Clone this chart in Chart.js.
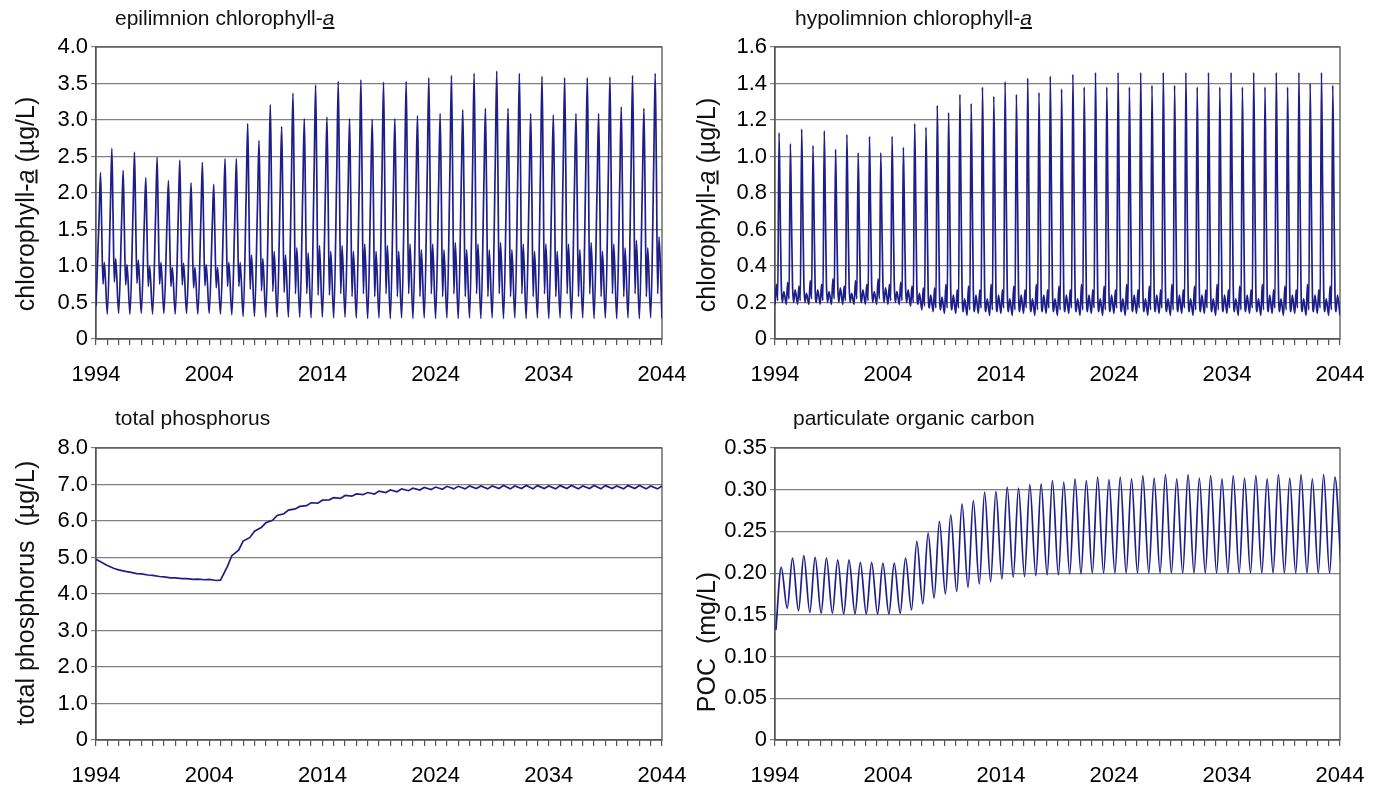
<!DOCTYPE html>
<html lang="en">
<head>
<meta charset="UTF-8">
<title>Lake water quality projections 1994-2044</title>
<style>
    body {
        margin: 0;
        background: #fff;
        font-family: Arial, "Liberation Sans", sans-serif;
        color: #111;
    }
    #page {
        position: relative;
        width: 1376px;
        height: 787px;
        overflow: hidden;
    }
    canvas {
        position: absolute;
    }
    .title {
        position: absolute;
        font-size: 21px;
        white-space: nowrap;
        transform: translateY(-50%);
    }
    .ytitle {
        position: absolute;
        font-size: 25px;
        white-space: nowrap;
        transform: translate(-50%, -50%) rotate(-90deg);
    }
</style>
</head>
<body>
<div id="page">
    <canvas id="epi" width="688" height="390" style="left:0;top:0"></canvas>
    <canvas id="hypo" width="688" height="390" style="left:688px;top:0"></canvas>
    <canvas id="tp" width="688" height="397" style="left:0;top:390px"></canvas>
    <canvas id="poc" width="688" height="397" style="left:688px;top:390px"></canvas>

    <div class="title" style="left:115px;top:18px">epilimnion chlorophyll-<i><u>a</u></i></div>
    <div class="title" style="left:795px;top:18px">hypolimnion chlorophyll-<i><u>a</u></i></div>
    <div class="title" style="left:115px;top:418px">total phosphorus</div>
    <div class="title" style="left:793px;top:418px">particulate organic carbon</div>

    <div class="ytitle" style="left:25px;top:204px">chlorophyll-<i><u>a</u></i> (µg/L)</div>
    <div class="ytitle" style="left:706px;top:205px">chlorophyll-<i><u>a</u></i> (µg/L)</div>
    <div class="ytitle" style="left:25px;top:593px">total phosphorus&nbsp; (µg/L)</div>
    <div class="ytitle" style="left:706px;top:642px">POC&nbsp; (mg/L)</div>
</div>

<script src="https://cdn.jsdelivr.net/npm/chart.js"></script>
<script>
    // first simulated year; every array below has one value per year from 1994
    const startYear = 1994;

    // epilimnion chlorophyll-a (ug/L): winter low, spring rise, bloom peak, fall-off, dip, late bump
    const epiLow = [0.45,0.34,0.35,0.34,0.35,0.34,0.35,0.34,0.35,0.34,
                    0.35,0.34,0.33,0.31,0.31,0.30,0.30,0.30,0.30,0.29,
                    0.30,0.29,0.30,0.29,0.28,0.29,0.28,0.29,0.28,0.29,
                    0.28,0.29,0.28,0.29,0.28,0.29,0.28,0.29,0.28,0.29,
                    0.28,0.29,0.28,0.29,0.28,0.29,0.28,0.29,0.28,0.29,0.28];
    const epiRise = [1.65,1.80,1.65,1.75,1.60,1.72,1.58,1.70,1.56,1.68,
                     1.55,1.70,1.70,2.00,1.85,2.15,2.00,2.25,2.05,2.30,
                     2.05,2.30,2.05,2.30,2.05,2.30,2.05,2.30,2.10,2.35,
                     2.10,2.35,2.15,2.35,2.15,2.40,2.15,2.35,2.10,2.35,
                     2.10,2.35,2.10,2.35,2.10,2.35,2.15,2.35,2.15,2.40];
    const epiPeak = [2.28,2.61,2.31,2.56,2.21,2.49,2.17,2.45,2.14,2.42,
                     2.12,2.47,2.47,2.95,2.72,3.21,2.91,3.37,3.02,3.48,
                     3.04,3.53,3.02,3.55,3.01,3.52,3.02,3.53,3.06,3.58,
                     3.09,3.61,3.14,3.64,3.16,3.67,3.16,3.64,3.09,3.60,
                     3.07,3.58,3.09,3.58,3.09,3.59,3.18,3.61,3.16,3.64];
    const epiFall = [1.55,1.75,1.55,1.70,1.50,1.65,1.48,1.62,1.45,1.60,
                     1.45,1.62,1.62,1.95,1.80,2.10,1.95,2.20,2.00,2.30,
                     2.00,2.30,2.00,2.30,2.00,2.30,2.00,2.30,2.05,2.35,
                     2.05,2.35,2.10,2.40,2.10,2.40,2.10,2.40,2.05,2.35,
                     2.05,2.35,2.05,2.35,2.05,2.35,2.10,2.35,2.10,2.40];
    const epiDip = [0.75,0.78,0.74,0.76,0.72,0.75,0.72,0.74,0.70,0.73,
                    0.70,0.72,0.72,0.68,0.66,0.65,0.64,0.62,0.62,0.60,
                    0.60,0.62,0.58,0.62,0.58,0.62,0.58,0.62,0.58,0.62,
                    0.58,0.62,0.58,0.62,0.58,0.62,0.58,0.62,0.58,0.62,
                    0.58,0.62,0.58,0.62,0.58,0.62,0.58,0.62,0.58,0.62];
    const epiBump = [1.05,1.10,1.02,1.08,1.00,1.05,0.98,1.04,0.98,1.02,
                     0.98,1.05,1.05,1.15,1.10,1.20,1.15,1.25,1.18,1.28,
                     1.20,1.28,1.20,1.30,1.20,1.28,1.20,1.30,1.22,1.30,
                     1.22,1.32,1.22,1.30,1.22,1.32,1.22,1.30,1.20,1.30,
                     1.20,1.30,1.22,1.32,1.20,1.30,1.25,1.35,1.25,1.40];

    // hypolimnion chlorophyll-a (ug/L)
    const hypLow = [0.19,0.19,0.19,0.19,0.19,0.19,0.19,0.19,0.19,0.19,
                    0.19,0.19,0.18,0.16,0.15,0.14,0.14,0.13,0.14,0.13,
                    0.14,0.13,0.14,0.13,0.14,0.13,0.14,0.13,0.14,0.13,
                    0.14,0.13,0.14,0.13,0.14,0.13,0.14,0.13,0.14,0.13,
                    0.14,0.13,0.14,0.13,0.14,0.13,0.14,0.13,0.14,0.13,0.13];
    const hypWiggle = [0.30,0.31,0.29,0.32,0.30,0.33,0.29,0.32,0.30,0.33,
                       0.30,0.31,0.29,0.28,0.28,0.30,0.27,0.29,0.27,0.30,
                       0.27,0.29,0.27,0.30,0.27,0.29,0.27,0.30,0.27,0.29,
                       0.27,0.30,0.27,0.29,0.27,0.30,0.27,0.29,0.27,0.30,
                       0.27,0.29,0.27,0.30,0.27,0.29,0.27,0.30,0.27,0.29];
    const hypPre = [0.21,0.22,0.21,0.22,0.21,0.22,0.21,0.22,0.21,0.22,
                    0.21,0.21,0.20,0.18,0.17,0.17,0.17,0.16,0.17,0.16,
                    0.17,0.16,0.17,0.16,0.17,0.16,0.17,0.16,0.17,0.16,
                    0.17,0.16,0.17,0.16,0.17,0.16,0.17,0.16,0.17,0.16,
                    0.17,0.16,0.17,0.16,0.17,0.16,0.17,0.16,0.17,0.16];
    const hypPeak = [1.13,1.07,1.15,1.06,1.14,1.04,1.12,1.02,1.11,1.02,
                     1.11,1.05,1.18,1.16,1.28,1.24,1.34,1.29,1.38,1.33,
                     1.41,1.34,1.43,1.35,1.44,1.37,1.45,1.38,1.46,1.38,
                     1.46,1.38,1.46,1.39,1.46,1.39,1.46,1.38,1.46,1.38,
                     1.46,1.38,1.46,1.38,1.46,1.38,1.46,1.40,1.46,1.39];
    const hypShoulder = [0.70,0.66,0.72,0.66,0.70,0.65,0.70,0.64,0.70,0.64,
                         0.70,0.66,0.74,0.72,0.78,0.76,0.80,0.78,0.82,0.80,
                         0.82,0.80,0.84,0.80,0.84,0.80,0.84,0.80,0.84,0.80,
                         0.84,0.80,0.84,0.80,0.84,0.80,0.84,0.80,0.84,0.80,
                         0.84,0.80,0.84,0.80,0.84,0.80,0.84,0.80,0.84,0.80];
    const hypPost = [0.31,0.30,0.32,0.29,0.31,0.30,0.32,0.29,0.31,0.30,
                     0.32,0.30,0.29,0.28,0.28,0.27,0.29,0.27,0.28,0.27,
                     0.29,0.27,0.28,0.27,0.29,0.27,0.28,0.27,0.29,0.27,
                     0.28,0.27,0.29,0.27,0.28,0.27,0.29,0.27,0.28,0.27,
                     0.29,0.27,0.28,0.27,0.29,0.27,0.28,0.27,0.29,0.27];
    const hypDip = [0.20,0.20,0.20,0.20,0.20,0.20,0.20,0.20,0.20,0.20,
                    0.20,0.20,0.19,0.17,0.16,0.16,0.15,0.15,0.15,0.15,
                    0.15,0.15,0.15,0.15,0.15,0.15,0.15,0.15,0.15,0.15,
                    0.15,0.15,0.15,0.15,0.15,0.15,0.15,0.15,0.15,0.15,
                    0.15,0.15,0.15,0.15,0.15,0.15,0.15,0.15,0.15,0.15];
    const hypLate = [0.26,0.27,0.25,0.27,0.26,0.28,0.25,0.27,0.26,0.28,
                     0.26,0.27,0.25,0.24,0.23,0.24,0.22,0.24,0.22,0.24,
                     0.22,0.24,0.22,0.24,0.22,0.24,0.22,0.24,0.22,0.24,
                     0.22,0.24,0.22,0.24,0.22,0.24,0.22,0.24,0.22,0.24,
                     0.22,0.24,0.22,0.24,0.22,0.24,0.22,0.24,0.22,0.24];

    // total phosphorus (ug/L): value at start of year and mid-year dip
    const tpJan = [4.95,4.78,4.66,4.60,4.55,4.51,4.47,4.44,4.42,4.41,
                   4.40,4.38,5.05,5.45,5.72,5.95,6.15,6.30,6.40,6.50,
                   6.57,6.64,6.70,6.74,6.78,6.82,6.85,6.88,6.90,6.92,
                   6.93,6.95,6.95,6.96,6.96,6.96,6.97,6.96,6.97,6.97,
                   6.96,6.97,6.97,6.96,6.97,6.97,6.96,6.97,6.97,6.96,6.96];
    const tpMid = [4.85,4.70,4.62,4.56,4.52,4.48,4.44,4.42,4.40,4.39,
                   4.37,4.75,5.20,5.55,5.82,6.02,6.20,6.33,6.42,6.49,
                   6.58,6.62,6.68,6.72,6.74,6.78,6.80,6.83,6.85,6.86,
                   6.87,6.88,6.88,6.89,6.88,6.89,6.88,6.89,6.88,6.89,
                   6.88,6.89,6.88,6.89,6.88,6.89,6.88,6.89,6.88,6.88];

    // particulate organic carbon (mg/L): annual minimum and maximum
    const pocLow = [0.132,0.158,0.155,0.153,0.152,0.152,0.151,0.151,0.151,0.151,
                    0.151,0.152,0.156,0.163,0.170,0.175,0.178,0.183,0.187,0.190,
                    0.193,0.195,0.196,0.197,0.198,0.198,0.199,0.199,0.200,0.200,
                    0.200,0.200,0.200,0.200,0.200,0.200,0.200,0.200,0.200,0.200,
                    0.200,0.200,0.200,0.200,0.200,0.200,0.200,0.200,0.200,0.200,0.210];
    const pocHigh = [0.207,0.218,0.221,0.219,0.218,0.216,0.216,0.213,0.213,0.212,
                     0.212,0.218,0.238,0.248,0.262,0.270,0.283,0.287,0.297,0.298,
                     0.303,0.302,0.306,0.307,0.311,0.309,0.313,0.311,0.315,0.312,
                     0.315,0.313,0.317,0.314,0.318,0.313,0.318,0.314,0.317,0.313,
                     0.317,0.314,0.317,0.313,0.318,0.314,0.318,0.313,0.318,0.315];

    // position of each value inside its year
    const epiPhase = [0.0, 0.27, 0.40, 0.50, 0.62, 0.74];
    const hypPhase = [0.0, 0.12, 0.24, 0.36, 0.46, 0.55, 0.65, 0.78];
    const tpPhase = [0.0, 0.6];
    const pocPhase = [0.08, 0.55];

    const lineColor = '#1e1e8a';
    const gridColor = '#808080';
    const frameColor = '#555555';
    const tickFont = { family: 'Arial, "Liberation Sans", sans-serif', size: 22 };

    function buildSeries(phase, columns) {
        const points = [];
        const years = Math.max(...columns.map(c => c.length));
        for (let i = 0; i < years; i++) {
            phase.forEach((p, k) => {
                if (columns[k][i] !== undefined) {
                    points.push({ x: startYear + i + p, y: columns[k][i] });
                }
            });
        }
        return points;
    }

    // box round the plot area, as in the spreadsheet charts
    const framePlugin = {
        id: 'frame',
        beforeDatasetsDraw(chart) {
            const { ctx, chartArea: a } = chart;
            ctx.save();
            ctx.strokeStyle = frameColor;
            ctx.lineWidth = 1.3;
            ctx.strokeRect(a.left, a.top, a.right - a.left, a.bottom - a.top);
            ctx.restore();
        }
    };

    function makeChart(id, points, cfg) {
        new Chart(document.getElementById(id), {
            type: 'line',
            data: {
                datasets: [{
                    data: points,
                    borderColor: lineColor,
                    borderWidth: 1.7,
                    pointRadius: 0,
                    fill: false,
                    cubicInterpolationMode: cfg.smooth ? 'monotone' : 'default',
                    tension: 0
                }]
            },
            options: {
                responsive: false,
                animation: false,
                devicePixelRatio: 1,
                events: [],
                layout: {
                    padding: { left: cfg.padLeft, right: cfg.padRight, top: cfg.padTop, bottom: 0 }
                },
                plugins: {
                    legend: { display: false },
                    tooltip: { enabled: false }
                },
                scales: {
                    x: {
                        type: 'linear',
                        min: 1994,
                        max: 2044,
                        grid: {
                            drawOnChartArea: false,
                            drawTicks: true,
                            tickLength: 6,
                            color: frameColor,
                            lineWidth: 1.2
                        },
                        border: { color: frameColor, width: 1.3 },
                        ticks: {
                            stepSize: 1,
                            autoSkip: false,
                            maxRotation: 0,
                            padding: 17,
                            color: '#000',
                            font: tickFont,
                            callback: v => (Math.round(v) - startYear) % 10 === 0 ? String(Math.round(v)) : ''
                        },
                        afterFit(scale) {
                            scale.height = cfg.xHeight;
                            scale.paddingLeft = 0;
                            scale.paddingRight = 0;
                        }
                    },
                    y: {
                        min: 0,
                        max: cfg.yMax,
                        grid: {
                            color: gridColor,
                            lineWidth: 1.2,
                            drawTicks: true,
                            tickLength: 5
                        },
                        border: { color: frameColor, width: 1.3 },
                        ticks: {
                            stepSize: cfg.yStep,
                            padding: 3,
                            color: '#000',
                            font: tickFont,
                            callback: v => Math.abs(v) < 1e-9 ? '0' : v.toFixed(cfg.decimals)
                        },
                        afterFit(scale) {
                            scale.width = cfg.yWidth;
                            scale.paddingTop = 0;
                            scale.paddingBottom = 0;
                        }
                    }
                }
            },
            plugins: [framePlugin]
        });
    }

    makeChart('epi', buildSeries(epiPhase, [epiLow, epiRise, epiPeak, epiFall, epiDip, epiBump]), {
        yMax: 4, yStep: 0.5, decimals: 1, smooth: true,
        padLeft: 40, yWidth: 56, padRight: 26, padTop: 47, xHeight: 51
    });
    makeChart('hypo', buildSeries(hypPhase, [hypLow, hypWiggle, hypPre, hypPeak, hypShoulder, hypPost, hypDip, hypLate]), {
        yMax: 1.6, yStep: 0.2, decimals: 1, smooth: true,
        padLeft: 20, yWidth: 67, padRight: 36, padTop: 47, xHeight: 51
    });
    makeChart('tp', buildSeries(tpPhase, [tpJan, tpMid]), {
        yMax: 8, yStep: 1, decimals: 1, smooth: false,
        padLeft: 40, yWidth: 56, padRight: 26, padTop: 58, xHeight: 47
    });
    makeChart('poc', buildSeries(pocPhase, [pocLow, pocHigh]), {
        yMax: 0.35, yStep: 0.05, decimals: 2, smooth: true,
        padLeft: 20, yWidth: 67, padRight: 36, padTop: 58, xHeight: 47
    });
</script>
</body>
</html>
